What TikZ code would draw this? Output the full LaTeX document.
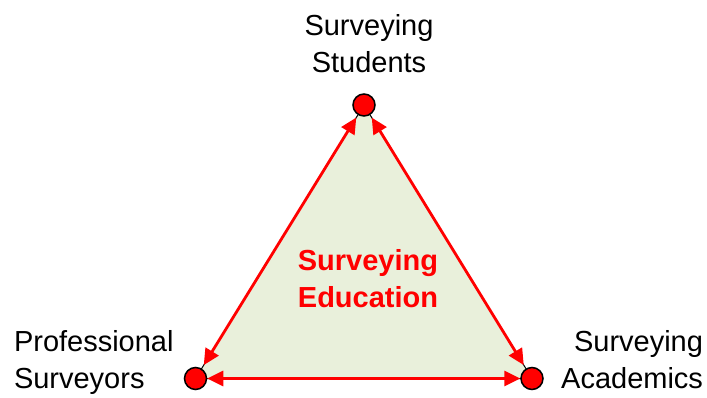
\documentclass[tikz,border=0pt]{standalone}
\usepackage{fontspec}
\setmainfont{Liberation Sans}
\usetikzlibrary{arrows.meta,backgrounds}

\begin{document}
\begin{tikzpicture}[x=1pt,y=1pt,
  vertexdot/.style={circle,draw=black,fill=red,line width=1.5pt,minimum size=22pt,inner sep=0pt},
  role/.style={text=black,inner sep=0pt,outer sep=0pt,font=\fontsize{29}{37}\selectfont},
  edgearrow/.style={draw=red,line width=2.8pt,{Triangle[length=16pt,width=15pt]}-{Triangle[length=16pt,width=15pt]}}]
\definecolor{fillColor}{RGB}{233,240,219}
\path[use as bounding box] (0,0) rectangle (707,397);

\node[vertexdot] (students) at (364,292) {};
\node[vertexdot] (surveyors) at (195.5,18.5) {};
\node[vertexdot] (academics) at (532,18.5) {};

\begin{scope}[on background layer]
\path[fill=fillColor,draw=black,line width=1pt] (students.center) -- (surveyors.center) -- (academics.center) -- cycle;
\end{scope}

\draw[edgearrow,shorten <=3pt,shorten >=4pt] (students) -- (surveyors);
\draw[edgearrow,shorten <=3pt,shorten >=4pt] (students) -- (academics);
\draw[edgearrow] (surveyors) -- (academics);

\node[role,align=center,anchor=base] (studentslabel) at (369,324) {Surveying\\Students};
\node[role,align=left,anchor=base west] (surveyorslabel) at (14,9) {Professional\\Surveyors};
\node[role,align=right,anchor=base east] (academicslabel) at (703,9) {Surveying\\Academics};

\node[role,text=red,font=\fontsize{29}{37}\selectfont\bfseries,align=center,anchor=base] (education) at (368,90) {Surveying\\Education};
\end{tikzpicture}
\end{document}
